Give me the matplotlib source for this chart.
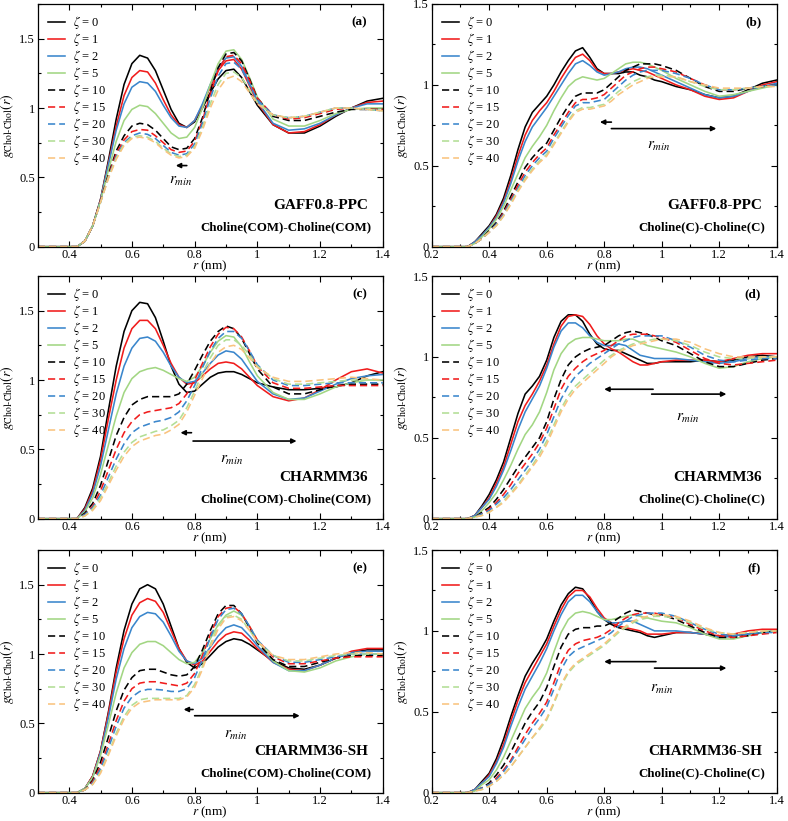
import matplotlib
matplotlib.use('Agg')
import matplotlib.pyplot as plt
from matplotlib.ticker import MultipleLocator, FuncFormatter

# ---------------- data ----------------
ZETA = [0, 1, 2, 5, 10, 15, 20, 30, 40]
COLORS = ['#000000', '#f01c1c', '#3a86cc', '#a2d683',
          '#000000', '#f01c1c', '#3a86cc', '#b2de95', '#f9c37e']
STYLES = ['-', '-', '-', '-', '--', '--', '--', '--', '--']

# r grid for Choline(COM)-Choline(COM) panels (a, c, e)
R_COM = [0.30, 0.40, 0.425, 0.45, 0.475, 0.50, 0.525, 0.55, 0.575, 0.60, 0.625,
         0.65, 0.675, 0.70, 0.725, 0.75, 0.775, 0.80, 0.825, 0.85, 0.875, 0.90,
         0.925, 0.95, 0.975, 1.00, 1.05, 1.10, 1.15, 1.20, 1.25, 1.30, 1.35, 1.40]
# r grid for Choline(C)-Choline(C) panels (b, d, f)
R_C = [0.20, 0.325, 0.35, 0.375, 0.40, 0.425, 0.45, 0.475, 0.50, 0.525, 0.55,
       0.575, 0.60, 0.625, 0.65, 0.675, 0.70, 0.725, 0.75, 0.775, 0.80, 0.825,
       0.85, 0.875, 0.90, 0.925, 0.95, 0.975, 1.00, 1.05, 1.10, 1.15, 1.20, 1.25,
       1.30, 1.35, 1.40]

# (a) GAFF0.8-PPC, COM-COM
G_A = [
    [0,0,0.0,0.04,0.15,0.34,0.62,0.92,1.17,1.32,1.38,1.36,1.27,1.13,0.99,0.89,0.86,0.90,1.00,1.11,1.21,1.27,1.28,1.22,1.12,1.02,0.88,0.82,0.82,0.87,0.94,1.00,1.05,1.07],
    [0,0,0.0,0.04,0.15,0.34,0.60,0.87,1.09,1.22,1.27,1.26,1.18,1.06,0.95,0.88,0.86,0.91,1.02,1.15,1.27,1.34,1.35,1.28,1.16,1.04,0.88,0.82,0.83,0.88,0.95,1.00,1.04,1.05],
    [0,0,0.0,0.04,0.15,0.34,0.59,0.84,1.03,1.15,1.19,1.18,1.12,1.02,0.93,0.87,0.86,0.91,1.03,1.17,1.29,1.36,1.37,1.30,1.18,1.05,0.89,0.84,0.85,0.89,0.95,1.00,1.03,1.03],
    [0,0,0.0,0.04,0.15,0.33,0.55,0.76,0.91,0.99,1.02,1.01,0.96,0.89,0.82,0.78,0.79,0.86,1.00,1.17,1.32,1.41,1.42,1.35,1.22,1.08,0.92,0.87,0.87,0.91,0.96,0.99,1.00,1.00],
    [0,0,0.0,0.04,0.15,0.33,0.52,0.69,0.80,0.87,0.89,0.88,0.84,0.78,0.72,0.70,0.71,0.78,0.93,1.12,1.29,1.39,1.40,1.34,1.21,1.07,0.94,0.91,0.91,0.94,0.97,0.99,0.99,0.99],
    [0,0,0.0,0.04,0.15,0.33,0.51,0.67,0.77,0.83,0.845,0.84,0.80,0.75,0.70,0.68,0.69,0.76,0.91,1.10,1.27,1.37,1.38,1.32,1.20,1.07,0.95,0.92,0.93,0.96,0.99,1.00,0.99,0.99],
    [0,0,0.0,0.04,0.15,0.32,0.50,0.65,0.75,0.80,0.82,0.81,0.78,0.73,0.68,0.66,0.67,0.74,0.89,1.07,1.23,1.32,1.33,1.28,1.17,1.06,0.95,0.93,0.94,0.97,1.00,1.00,0.99,0.98],
    [0,0,0.0,0.04,0.15,0.32,0.50,0.64,0.74,0.79,0.80,0.79,0.76,0.71,0.67,0.65,0.66,0.72,0.86,1.03,1.17,1.25,1.26,1.22,1.13,1.04,0.95,0.93,0.94,0.97,1.00,1.00,0.99,0.98],
    [0,0,0.0,0.04,0.15,0.32,0.49,0.63,0.73,0.78,0.79,0.78,0.75,0.70,0.66,0.64,0.65,0.71,0.84,1.00,1.13,1.21,1.23,1.19,1.11,1.03,0.95,0.93,0.94,0.97,1.00,1.00,0.99,0.98],
]

# (b) GAFF0.8-PPC, C-C
G_B = [
    [0,0,0.03,0.08,0.13,0.20,0.30,0.44,0.60,0.74,0.83,0.88,0.93,1.00,1.08,1.15,1.21,1.23,1.17,1.10,1.07,1.07,1.07,1.08,1.08,1.06,1.05,1.03,1.02,0.99,0.97,0.94,0.92,0.93,0.97,1.01,1.03],
    [0,0,0.03,0.07,0.12,0.19,0.28,0.41,0.56,0.69,0.78,0.84,0.89,0.96,1.04,1.11,1.17,1.19,1.15,1.09,1.07,1.07,1.08,1.09,1.10,1.09,1.08,1.06,1.04,1.00,0.97,0.93,0.91,0.92,0.96,1.00,1.02],
    [0,0,0.03,0.07,0.12,0.18,0.27,0.39,0.53,0.65,0.74,0.80,0.86,0.93,1.00,1.07,1.13,1.15,1.12,1.08,1.06,1.07,1.08,1.10,1.11,1.11,1.10,1.08,1.06,1.02,0.98,0.94,0.92,0.93,0.96,0.99,1.01],
    [0,0,0.02,0.06,0.11,0.17,0.25,0.35,0.45,0.55,0.62,0.68,0.75,0.84,0.92,0.99,1.03,1.05,1.04,1.03,1.04,1.07,1.10,1.13,1.14,1.14,1.13,1.11,1.09,1.04,1.00,0.96,0.93,0.94,0.96,0.98,1.00],
    [0,0,0.02,0.05,0.10,0.15,0.22,0.31,0.40,0.49,0.55,0.60,0.64,0.72,0.80,0.87,0.93,0.95,0.95,0.95,0.97,1.01,1.05,1.09,1.11,1.13,1.13,1.13,1.12,1.09,1.04,0.99,0.96,0.96,0.98,0.99,1.00],
    [0,0,0.02,0.05,0.09,0.14,0.21,0.29,0.38,0.46,0.52,0.57,0.61,0.69,0.76,0.83,0.89,0.91,0.91,0.92,0.94,0.98,1.02,1.06,1.08,1.10,1.11,1.11,1.10,1.08,1.04,1.00,0.97,0.97,0.98,0.99,1.00],
    [0,0,0.02,0.05,0.09,0.14,0.20,0.28,0.36,0.44,0.50,0.55,0.59,0.67,0.74,0.81,0.87,0.89,0.89,0.90,0.91,0.95,0.99,1.03,1.06,1.08,1.09,1.09,1.09,1.07,1.04,1.00,0.97,0.97,0.98,0.99,1.00],
    [0,0,0.02,0.05,0.09,0.13,0.19,0.27,0.35,0.42,0.48,0.53,0.57,0.64,0.71,0.78,0.84,0.86,0.86,0.87,0.88,0.92,0.96,0.99,1.02,1.04,1.05,1.06,1.06,1.05,1.02,0.99,0.97,0.97,0.98,0.99,0.99],
    [0,0,0.02,0.05,0.09,0.13,0.19,0.26,0.34,0.41,0.47,0.52,0.56,0.63,0.70,0.77,0.83,0.85,0.85,0.86,0.87,0.90,0.94,0.97,1.00,1.02,1.04,1.05,1.05,1.05,1.02,1.00,0.98,0.98,0.98,0.99,0.99],
]

# (c) CHARMM36, COM-COM
G_C = [
    [0,0,0.0,0.08,0.22,0.45,0.78,1.10,1.35,1.50,1.56,1.55,1.45,1.28,1.10,0.97,0.91,0.92,0.97,1.02,1.05,1.06,1.06,1.04,1.01,0.98,0.95,0.93,0.93,0.94,0.95,0.98,1.03,1.06],
    [0,0,0.0,0.07,0.20,0.42,0.72,1.00,1.23,1.37,1.43,1.43,1.37,1.25,1.12,1.02,0.97,0.98,1.03,1.08,1.12,1.13,1.12,1.08,1.02,0.96,0.88,0.85,0.87,0.93,1.00,1.06,1.08,1.05],
    [0,0,0.0,0.06,0.18,0.38,0.64,0.90,1.10,1.23,1.30,1.31,1.28,1.20,1.10,1.02,0.98,0.99,1.05,1.12,1.18,1.21,1.20,1.15,1.07,0.99,0.90,0.86,0.87,0.92,0.97,1.01,1.03,1.04],
    [0,0,0.0,0.05,0.15,0.32,0.53,0.74,0.91,1.01,1.06,1.08,1.09,1.07,1.04,1.01,0.99,1.02,1.10,1.20,1.28,1.32,1.31,1.24,1.13,1.03,0.91,0.86,0.86,0.90,0.95,0.98,1.00,1.00],
    [0,0,0.0,0.04,0.11,0.24,0.42,0.60,0.73,0.82,0.86,0.88,0.88,0.88,0.88,0.90,0.97,1.07,1.18,1.28,1.35,1.39,1.37,1.30,1.19,1.08,0.95,0.90,0.90,0.93,0.96,0.97,0.97,0.97],
    [0,0,0.0,0.03,0.09,0.20,0.35,0.50,0.62,0.70,0.75,0.77,0.78,0.79,0.80,0.83,0.90,1.00,1.12,1.24,1.33,1.38,1.37,1.31,1.21,1.10,0.98,0.94,0.94,0.95,0.96,0.96,0.96,0.96],
    [0,0,0.0,0.03,0.08,0.17,0.30,0.43,0.54,0.62,0.66,0.68,0.70,0.71,0.73,0.77,0.85,0.96,1.09,1.21,1.30,1.35,1.35,1.30,1.21,1.11,1.00,0.96,0.96,0.97,0.98,0.98,0.98,0.98],
    [0,0,0.0,0.02,0.07,0.15,0.26,0.38,0.48,0.55,0.59,0.61,0.63,0.64,0.67,0.71,0.80,0.92,1.05,1.16,1.25,1.29,1.29,1.25,1.18,1.10,1.01,0.97,0.97,0.98,0.99,1.00,1.00,1.00],
    [0,0,0.0,0.02,0.06,0.13,0.24,0.35,0.45,0.52,0.56,0.58,0.60,0.61,0.64,0.68,0.77,0.89,1.01,1.12,1.20,1.24,1.25,1.22,1.16,1.09,1.02,0.99,0.99,1.00,1.01,1.02,1.01,1.00],
]

# (d) CHARMM36, C-C
G_D = [
    [0,0,0.02,0.08,0.15,0.24,0.35,0.50,0.65,0.77,0.82,0.88,0.98,1.12,1.22,1.26,1.26,1.22,1.14,1.08,1.05,1.04,1.04,1.02,1.00,0.98,0.96,0.96,0.97,0.97,0.97,0.98,0.97,0.98,1.00,1.01,1.00],
    [0,0,0.02,0.07,0.13,0.22,0.32,0.46,0.60,0.70,0.77,0.85,0.95,1.08,1.19,1.25,1.26,1.25,1.20,1.13,1.08,1.05,1.03,1.00,0.97,0.95,0.95,0.96,0.97,0.98,0.98,0.98,0.97,0.99,1.01,1.02,1.02],
    [0,0,0.02,0.07,0.12,0.20,0.30,0.42,0.55,0.66,0.74,0.82,0.93,1.06,1.16,1.21,1.21,1.18,1.13,1.09,1.07,1.07,1.08,1.07,1.04,1.01,1.00,0.99,0.99,0.99,0.98,0.97,0.96,0.97,0.99,1.00,1.00],
    [0,0,0.01,0.05,0.10,0.16,0.24,0.33,0.43,0.52,0.58,0.66,0.78,0.92,1.02,1.08,1.11,1.12,1.12,1.11,1.10,1.10,1.10,1.11,1.11,1.09,1.07,1.06,1.05,1.03,1.00,0.96,0.93,0.94,0.97,0.99,1.00],
    [0,0,0.01,0.04,0.07,0.12,0.18,0.25,0.32,0.38,0.44,0.50,0.60,0.74,0.86,0.95,1.00,1.03,1.05,1.06,1.07,1.10,1.13,1.15,1.16,1.15,1.14,1.12,1.10,1.07,1.02,0.97,0.94,0.94,0.96,0.98,0.99],
    [0,0,0.01,0.03,0.06,0.10,0.15,0.21,0.28,0.34,0.40,0.47,0.56,0.68,0.80,0.88,0.93,0.97,1.00,1.02,1.04,1.07,1.10,1.13,1.14,1.14,1.14,1.13,1.12,1.09,1.04,0.99,0.96,0.95,0.96,0.97,0.98],
    [0,0,0.01,0.03,0.05,0.09,0.13,0.18,0.24,0.30,0.36,0.43,0.52,0.63,0.74,0.82,0.88,0.92,0.96,0.99,1.02,1.05,1.08,1.10,1.12,1.13,1.13,1.13,1.13,1.10,1.06,1.01,0.98,0.97,0.98,0.99,0.99],
    [0,0,0.01,0.02,0.04,0.07,0.11,0.16,0.21,0.27,0.33,0.40,0.48,0.58,0.68,0.76,0.82,0.86,0.90,0.94,0.98,1.01,1.04,1.06,1.08,1.09,1.10,1.11,1.11,1.10,1.07,1.03,1.00,0.99,0.99,1.00,1.00],
    [0,0,0.01,0.02,0.04,0.07,0.10,0.15,0.20,0.26,0.32,0.38,0.46,0.56,0.66,0.74,0.80,0.84,0.88,0.92,0.96,1.00,1.03,1.05,1.07,1.08,1.09,1.10,1.11,1.11,1.09,1.05,1.02,1.00,1.00,1.00,1.00],
]

# (e) CHARMM36-SH, COM-COM
G_E = [
    [0,0,0.0,0.03,0.12,0.30,0.58,0.90,1.17,1.36,1.47,1.50,1.47,1.36,1.20,1.04,0.94,0.90,0.93,0.99,1.05,1.09,1.11,1.10,1.07,1.03,0.95,0.90,0.89,0.92,0.97,1.01,1.03,1.03],
    [0,0,0.0,0.03,0.12,0.30,0.57,0.87,1.11,1.28,1.37,1.40,1.38,1.30,1.17,1.04,0.95,0.92,0.95,1.02,1.09,1.14,1.16,1.15,1.10,1.04,0.94,0.89,0.88,0.92,0.97,1.02,1.04,1.04],
    [0,0,0.0,0.03,0.11,0.29,0.54,0.82,1.04,1.19,1.27,1.30,1.29,1.23,1.13,1.02,0.95,0.93,0.97,1.05,1.13,1.19,1.21,1.19,1.13,1.06,0.94,0.88,0.88,0.92,0.97,1.01,1.02,1.02],
    [0,0,0.0,0.03,0.11,0.27,0.49,0.72,0.90,1.01,1.07,1.09,1.09,1.06,1.01,0.96,0.93,0.94,1.01,1.11,1.21,1.28,1.31,1.28,1.20,1.10,0.95,0.88,0.87,0.90,0.95,0.98,1.00,1.00],
    [0,0,0.0,0.02,0.09,0.22,0.40,0.59,0.74,0.83,0.88,0.89,0.89,0.87,0.85,0.84,0.85,0.91,1.03,1.17,1.29,1.35,1.35,1.29,1.19,1.08,0.96,0.91,0.91,0.94,0.97,0.99,0.99,0.99],
    [0,0,0.0,0.02,0.08,0.19,0.35,0.52,0.66,0.75,0.79,0.80,0.80,0.79,0.78,0.77,0.79,0.86,0.99,1.14,1.27,1.33,1.34,1.29,1.20,1.10,0.98,0.93,0.93,0.95,0.97,0.98,0.98,0.98],
    [0,0,0.0,0.02,0.07,0.17,0.32,0.48,0.61,0.69,0.73,0.745,0.745,0.74,0.73,0.73,0.75,0.83,0.96,1.12,1.25,1.32,1.33,1.29,1.20,1.10,0.99,0.94,0.94,0.96,0.98,1.00,1.00,1.00],
    [0,0,0.0,0.02,0.06,0.15,0.28,0.43,0.55,0.63,0.67,0.68,0.68,0.68,0.68,0.68,0.70,0.78,0.91,1.07,1.20,1.27,1.28,1.25,1.17,1.09,0.99,0.95,0.95,0.97,0.99,1.00,1.00,1.00],
    [0,0,0.0,0.02,0.06,0.14,0.27,0.41,0.53,0.61,0.65,0.66,0.67,0.67,0.67,0.67,0.69,0.76,0.89,1.05,1.18,1.26,1.27,1.24,1.17,1.09,0.99,0.96,0.96,0.98,1.00,1.01,1.01,1.00],
]

# (f) CHARMM36-SH, C-C
G_F = [
    [0,0,0.02,0.07,0.12,0.21,0.33,0.47,0.60,0.72,0.80,0.87,0.95,1.06,1.16,1.23,1.27,1.26,1.20,1.12,1.07,1.04,1.02,1.01,1.00,0.99,0.97,0.96,0.97,0.99,0.99,0.98,0.96,0.97,0.98,0.99,1.00],
    [0,0,0.02,0.06,0.11,0.19,0.30,0.44,0.57,0.68,0.76,0.84,0.92,1.03,1.13,1.21,1.25,1.25,1.21,1.14,1.08,1.05,1.03,1.02,1.01,1.00,0.98,0.98,0.98,0.99,0.99,0.98,0.97,0.98,1.00,1.01,1.01],
    [0,0,0.02,0.06,0.10,0.18,0.28,0.41,0.53,0.64,0.72,0.80,0.89,1.00,1.10,1.18,1.22,1.22,1.18,1.12,1.07,1.05,1.05,1.06,1.06,1.04,1.02,1.00,1.00,1.00,0.99,0.98,0.96,0.97,0.98,0.99,1.00],
    [0,0,0.01,0.05,0.08,0.14,0.22,0.32,0.42,0.52,0.59,0.65,0.74,0.87,0.99,1.07,1.11,1.12,1.11,1.09,1.07,1.07,1.08,1.09,1.10,1.09,1.08,1.07,1.06,1.05,1.02,0.98,0.95,0.95,0.97,0.99,1.00],
    [0,0,0.01,0.03,0.06,0.11,0.17,0.25,0.34,0.43,0.50,0.56,0.65,0.78,0.90,0.98,1.01,1.02,1.02,1.03,1.03,1.05,1.08,1.11,1.13,1.12,1.11,1.10,1.10,1.07,1.03,0.99,0.96,0.96,0.97,0.99,1.00],
    [0,0,0.01,0.03,0.05,0.09,0.14,0.20,0.28,0.36,0.43,0.49,0.56,0.68,0.80,0.88,0.92,0.94,0.95,0.96,0.98,1.01,1.05,1.08,1.10,1.11,1.11,1.11,1.10,1.08,1.04,1.00,0.97,0.96,0.97,0.98,0.99],
    [0,0,0.01,0.03,0.05,0.08,0.13,0.19,0.26,0.33,0.40,0.46,0.53,0.64,0.76,0.84,0.88,0.90,0.92,0.94,0.96,0.99,1.03,1.06,1.09,1.10,1.11,1.11,1.11,1.09,1.05,1.01,0.98,0.97,0.98,0.99,0.99],
    [0,0,0.01,0.02,0.04,0.07,0.11,0.16,0.22,0.28,0.34,0.39,0.45,0.55,0.66,0.74,0.79,0.82,0.85,0.88,0.91,0.95,0.99,1.02,1.05,1.07,1.08,1.09,1.09,1.08,1.05,1.01,0.99,0.98,0.99,1.00,1.00],
    [0,0,0.01,0.02,0.04,0.07,0.11,0.16,0.22,0.28,0.34,0.40,0.46,0.56,0.67,0.75,0.80,0.83,0.86,0.89,0.92,0.96,1.00,1.03,1.06,1.08,1.09,1.10,1.10,1.09,1.06,1.02,0.99,0.98,0.99,1.00,1.00],
]

PANEL_TAGS = ['(a)', '(b)', '(c)', '(d)', '(e)', '(f)']
MODELS = ['GAFF0.8-PPC', 'GAFF0.8-PPC', 'CHARMM36', 'CHARMM36', 'CHARMM36-SH', 'CHARMM36-SH']
PAIRS = ['Choline(COM)-Choline(COM)', 'Choline(C)-Choline(C)'] * 3
XLIMS = [(0.3, 1.4), (0.2, 1.4)] * 3
YLIMS = [(0, 1.75), (0, 1.5)] * 3

# r_min arrows: (start, end) pairs per panel, and r_min label positions
ARROWS = [
    [((0.775, 0.585), (0.74, 0.585))],
    [((0.825, 0.77), (0.785, 0.77)), ((0.825, 0.73), (1.19, 0.73))],
    [((0.79, 0.62), (0.755, 0.62)), ((0.795, 0.56), (1.125, 0.56))],
    [((0.97, 0.80), (0.80, 0.80)), ((0.965, 0.77), (1.225, 0.77))],
    [((0.795, 0.60), (0.765, 0.60)), ((0.80, 0.555), (1.135, 0.555))],
    [((0.98, 0.81), (0.80, 0.81)), ((0.975, 0.77), (1.225, 0.77))],
]
RMIN_TEXT = [(0.755, 0.47), (0.99, 0.62), (0.92, 0.42), (1.09, 0.62), (0.93, 0.415), (1.0, 0.64)]

# ---------------- style ----------------
plt.rcParams['font.family'] = ['Liberation Serif', 'DejaVu Serif']
plt.rcParams['mathtext.fontset'] = 'stix'
plt.rcParams['axes.linewidth'] = 0.9

fig = plt.figure(figsize=(7.88, 8.21), dpi=100)
W, H = 788.0, 821.0
col_x = [37.8, 431.7]
row_bottom = [246.7, 518.7, 792.7]
ax_w = 345.0
ax_h = 242.7

series = [(R_COM, G_A), (R_C, G_B), (R_COM, G_C), (R_C, G_D), (R_COM, G_E), (R_C, G_F)]

fmt = FuncFormatter(lambda v, p: '%g' % round(v, 3))

for i, (rr, gs) in enumerate(series):
    row, col = divmod(i, 2)
    ax = fig.add_axes([col_x[col] / W, 1 - row_bottom[row] / H, ax_w / W, ax_h / H])
    handles = []
    for k, g in enumerate(gs):
        assert len(g) == len(rr)
        kw = dict(color=COLORS[k], lw=1.15)
        if STYLES[k] == '--':
            kw['linestyle'] = (0, (4.5, 2.5))
        h, = ax.plot(rr, g, label=r'$\zeta$ = %d' % ZETA[k], **kw)
        handles.append(h)
    ax.set_xlim(*XLIMS[i])
    ax.set_ylim(*YLIMS[i])
    ax.xaxis.set_major_locator(MultipleLocator(0.2))
    ax.xaxis.set_minor_locator(MultipleLocator(0.1))
    ax.yaxis.set_major_locator(MultipleLocator(0.5))
    ax.yaxis.set_minor_locator(MultipleLocator(0.25))
    ax.xaxis.set_major_formatter(fmt)
    ax.yaxis.set_major_formatter(fmt)
    ax.tick_params(which='both', direction='in', top=True, right=True, labelsize=9)
    ax.tick_params(axis='x', pad=1.5)
    ax.tick_params(axis='y', pad=2)
    ax.tick_params(which='major', length=4.5, width=0.8)
    ax.tick_params(which='minor', length=2.5, width=0.8)
    ax.set_xlabel(r'$r$ (nm)', fontsize=9.5, labelpad=-1.5)
    ax.set_ylabel(r'$g_{\mathrm{Chol}\text{-}\mathrm{Chol}}(r)$', fontsize=10, labelpad=2)

    ax.legend(handles=handles, loc='upper left', bbox_to_anchor=(0.0, 1.0), frameon=False,
              fontsize=9, handlelength=1.4, handletextpad=0.6, labelspacing=0.0,
              borderaxespad=0.4, borderpad=0.4)

    ax.text(0.955, 0.925, PANEL_TAGS[i], transform=ax.transAxes, ha='right', va='center',
            fontsize=9.5, fontweight='bold')
    ax.text(0.958, 0.17, MODELS[i], transform=ax.transAxes, ha='right', va='center',
            fontsize=11, fontweight='bold')
    ax.text(0.968, 0.08, PAIRS[i], transform=ax.transAxes, ha='right', va='center',
            fontsize=9.3, fontweight='bold')

    for (start, end) in ARROWS[i]:
        ax.annotate('', xy=end, xytext=start,
                    arrowprops=dict(arrowstyle='-|>', color='k', lw=1.2,
                                    mutation_scale=7, shrinkA=0, shrinkB=0))
    tx, ty = RMIN_TEXT[i]
    ax.text(tx, ty, r'$r_{min}$', ha='center', va='center', fontsize=11)

fig.savefig('out.png', dpi=100)
